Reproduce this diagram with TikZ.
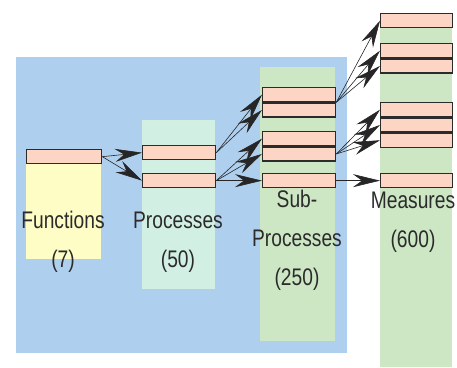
\documentclass[tikz,border=0pt]{standalone}
\usepackage{fontspec}
\setmainfont{Liberation Sans}[FakeStretch=0.8]
\usepackage{tikz}
\usetikzlibrary{positioning, arrows.meta}
\definecolor{sky}{HTML}{AFCFEE}
\definecolor{butter}{HTML}{FFFDC6}
\definecolor{mint}{HTML}{D2EFE4}
\definecolor{sage}{HTML}{CDE7C5}
\definecolor{salmon}{HTML}{FDD5C5}
\definecolor{char}{HTML}{2B2B2B}

\begin{document}
\begin{tikzpicture}[
  x=1pt, y=-1pt,
  font=\fontsize{24}{39}\selectfont,
  bar/.style={rectangle, draw=char, line width=1.3pt, fill=salmon,
              minimum width=73pt, minimum height=14pt, inner sep=0pt,
              anchor=north west},
  link/.style={-{Stealth[length=27pt, width=13pt, inset=9pt]}, line width=0.6pt,
               color=black!85},
  every node/.style={align=center, text=char}
]
\useasboundingbox (0,0) rectangle (457,367);
% Background panels
\fill[sky]    (16,57)   rectangle (347,353);
\fill[butter] (26,163)  rectangle (101,259);
\fill[mint]   (142,120) rectangle (215,289);
\fill[sage]   (260,67)  rectangle (335,341);
\fill[sage]   (380,13)  rectangle (452,367);
% Functions
\node[bar, minimum width=75pt] (fn) at (26,149) {};
% Processes
\node[bar] (p1) at (142,145) {};
\node[bar] (p2) at (142,173) {};
% Sub-processes
\node[bar] (sb1) at (262,87) {};
\node[bar, below=0pt of sb1] (sb2) {};
\node[bar] (sb3) at (262,131) {};
\node[bar, below=0pt of sb3] (sb4) {};
\node[bar] (sb5) at (262,173) {};
% Measures
\node[bar, minimum width=72pt] (m1) at (380,13) {};
\node[bar, minimum width=72pt] (m2) at (380,43) {};
\node[bar, minimum width=72pt, below=0pt of m2] (m3) {};
\node[bar, minimum width=72pt] (m4) at (380,102) {};
\node[bar, minimum width=72pt, below=0pt of m4] (m5) {};
\node[bar, minimum width=72pt, below=0pt of m5] (m6) {};
\node[bar, minimum width=72pt] (m7) at (380,173) {};
% Links
\draw[link] (fn.east) -- (p1.west);
\draw[link] (fn.east) -- (p2.west);
\draw[link] (p1.east) -- (sb1.west);
\draw[link] (p1.east) -- (sb2.west);
\draw[link] (p2.east) -- (sb3.west);
\draw[link] (p2.east) -- (sb4.west);
\draw[link] (p2.east) -- (sb5.west);
\draw[link] (sb1.south east) -- (m1.west);
\draw[link] (sb1.south east) -- (m2.west);
\draw[link] (sb1.south east) -- (m3.west);
\draw[link] (sb4.east) -- (m4.west);
\draw[link] (sb4.east) -- (m5.west);
\draw[link] (sb4.east) -- (m6.west);
\draw[link] (sb5.east) -- (m7.west);
% Labels
\node (fnlabel) at (63,242)  {Functions\\(7)};
\node (plabel)  at (178,242) {Processes\\(50)};
\node (sblabel) at (297,240) {Sub-\\Processes\\(250)};
\node (mlabel)  at (413,222) {Measures\\(600)};
\end{tikzpicture}
\end{document}
